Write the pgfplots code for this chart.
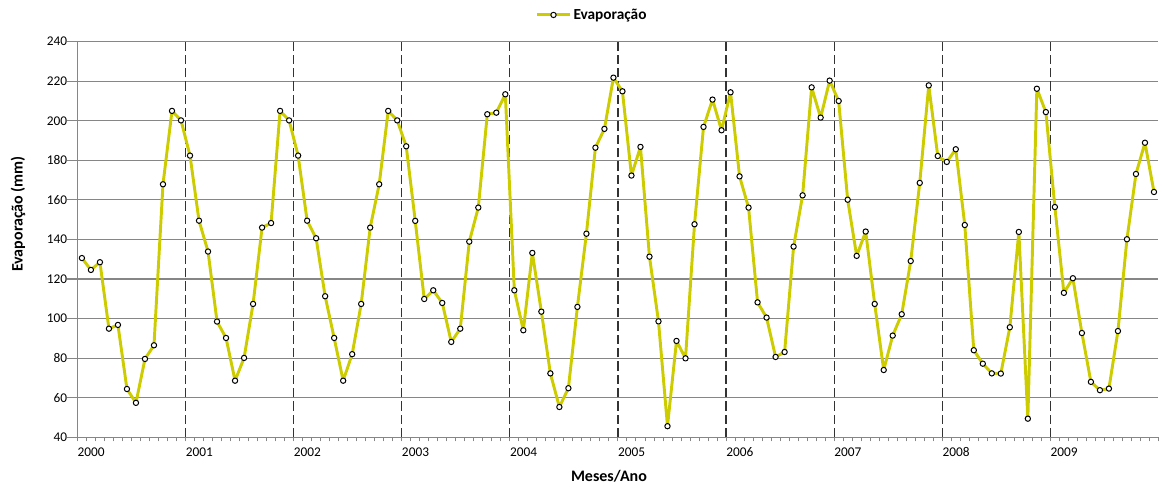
\documentclass[border=0pt]{standalone}
\usepackage{fontspec}
\setmainfont{Carlito}
\usepackage{pgfplots}
\usepackage{pgfplotstable}
\pgfplotsset{compat=1.18}
\definecolor{evap}{RGB}{204,204,0}
\definecolor{gridgray}{RGB}{134,134,134}
\pgfplotstableread{
x y
0 130.6
1 124.6
2 128.5
3 94.9
4 96.8
5 64.4
6 57.4
7 79.6
8 86.5
9 167.9
10 205.0
11 200.2
12 182.4
13 149.5
14 133.9
15 98.5
16 90.2
17 68.6
18 80.1
19 107.4
20 146.0
21 148.3
22 205.0
23 200.2
24 182.4
25 149.5
26 140.6
27 111.3
28 90.2
29 68.6
30 82.0
31 107.4
32 146.0
33 167.9
34 205.0
35 200.2
36 187.1
37 149.4
38 109.9
39 114.3
40 107.9
41 88.2
42 94.9
43 138.9
44 156.1
45 203.3
46 204.1
47 213.4
48 114.3
49 94.1
50 133.2
51 103.5
52 72.3
53 55.3
54 64.8
55 105.9
56 142.9
57 186.4
58 195.9
59 221.8
60 214.9
61 172.3
62 186.8
63 131.3
64 98.6
65 45.6
66 88.7
67 79.9
68 147.7
69 196.9
70 210.7
71 195.2
72 214.4
73 171.9
74 156.1
75 108.2
76 100.5
77 80.6
78 83.1
79 136.4
80 162.3
81 216.9
82 201.6
83 220.3
84 210.0
85 160.1
86 131.7
87 144.0
88 107.4
89 74.0
90 91.4
91 102.2
92 129.1
93 168.6
94 217.9
95 182.2
96 179.2
97 185.6
98 147.3
99 84.0
100 77.2
101 72.3
102 72.2
103 95.6
104 143.8
105 49.4
106 216.2
107 204.4
108 156.4
109 113.0
110 120.4
111 92.7
112 68.0
113 63.8
114 64.6
115 93.7
116 140.1
117 173.1
118 188.9
119 164.0
}\evapdata
\begin{document}
\begin{tikzpicture}
\useasboundingbox (0,0) rectangle (871.5pt,368.25pt);
\begin{axis}[
  at={(58.05pt,40.3pt)}, anchor=south west,
  scale only axis, width=810.8pt, height=296.7pt,
  xmin=-0.5, xmax=119.5, ymin=40, ymax=240,
  ytick={40,60,...,240},
  xtick={-0.5,11.5,...,107.5},
  xticklabels={2000,2001,2002,2003,2004,2005,2006,2007,2008,2009},
  minor xtick={-0.5,0.5,...,119.5},
  axis x line*=bottom, axis y line*=left,
  axis line style={draw=gridgray, line width=0.9pt},
  tick align=outside,
  major tick length=7.5pt, minor tick length=3pt,
  major x tick style={draw=none},
  minor x tick style={draw=gridgray, line width=0.7pt},
  ytick style={draw=gridgray, line width=0.9pt},
  ymajorgrids,
  major grid style={draw=gridgray, line width=0.9pt},
  /pgf/number format/assume math mode=true,
  ticklabel style={font=\fontsize{10}{12}\selectfont, text=black},
  yticklabel style={anchor=east, inner xsep=0pt},
  xticklabel style={anchor=north west, inner xsep=0pt, inner ysep=0pt},
  extra x ticks={11.5,23.5,...,107.5},
  extra x tick labels={},
  extra x tick style={grid=major, major x tick style={draw=none},
     major grid style={draw=black!80, line width=0.9pt, dash pattern=on 7pt off 3pt}},
  xlabel={Meses/Ano},
  ylabel={Evaporação (mm)},
  every axis x label/.style={at={(axis description cs:0.4917,-0.1122)}, anchor=base, font=\fontsize{12}{14}\bfseries},
  every axis y label/.style={at={(axis description cs:-0.0549,0.5645)}, anchor=center, rotate=90, font=\fontsize{12}{14}\bfseries},
  legend style={at={(axis description cs:0.476,1.0675)}, anchor=center, draw=none, fill=none,
     font=\fontsize{11.5}{13}\bfseries, inner sep=0pt, nodes={inner xsep=1.5pt}},
  legend image code/.code={\draw[mark repeat=2,mark phase=2,#1] plot coordinates {(0pt,0pt) (12.4pt,0pt) (24.8pt,0pt)};},
  clip=false,
]
\addplot[color=evap, line width=2.2pt, line join=round, mark=*, mark size=2pt,
  mark options={fill=white, draw=black, line width=0.75pt}] table[x=x,y=y] {\evapdata};
\addlegendentry{Evaporação}
\end{axis}
\end{tikzpicture}
\end{document}
